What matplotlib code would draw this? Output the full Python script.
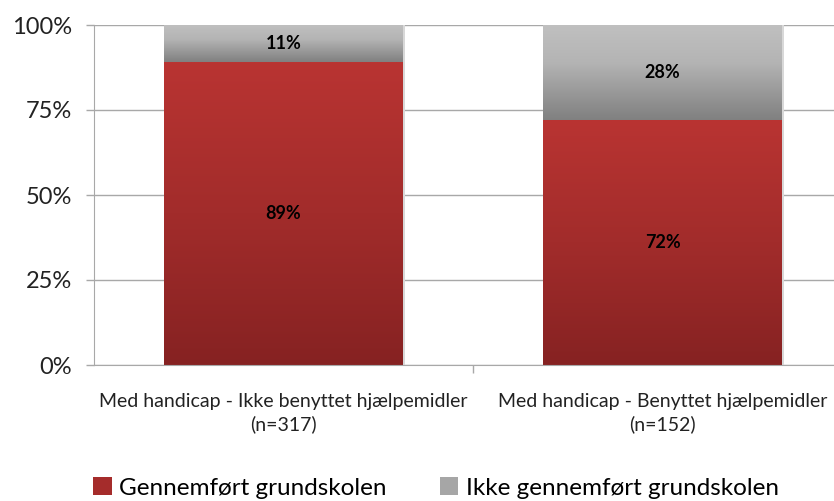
import numpy as np
import matplotlib
matplotlib.use("Agg")
import matplotlib.pyplot as plt
from matplotlib.colors import LinearSegmentedColormap

categories = ["Med handicap - Ikke benyttet hjælpemidler\n(n=317)",
              "Med handicap - Benyttet hjælpemidler\n(n=152)"]
completed = [89, 72]
not_completed = [11, 28]
series_names = ["Gennemført grundskolen", "Ikke gennemført grundskolen"]
yticks = [0, 25, 50, 75, 100]
ytick_labels = ["0%", "25%", "50%", "75%", "100%"]

plt.rcParams['font.family'] = ['Lato', 'DejaVu Sans']

W, H = 834, 501
fig = plt.figure(figsize=(W / 100, H / 100), dpi=100)
left, right, top, bottom = 94, 852, 25, 365
ax = fig.add_axes([left / W, 1 - bottom / H, (right - left) / W, (bottom - top) / H])

x = np.arange(len(categories))
width = 0.63
red_cmap = LinearSegmentedColormap.from_list("r", ["#862222", "#a22c2b", "#b93432"])
grey_cmap = LinearSegmentedColormap.from_list("g", [(0, "#808080"), (0.6, "#b4b4b4"), (1, "#c0c0c0")])

grad = np.linspace(0, 1, 256).reshape(-1, 1)
b1 = ax.bar(x, completed, width, color="#a52c2b", label=series_names[0], zorder=2)
b2 = ax.bar(x, not_completed, width, bottom=completed, color="#a6a6a6", label=series_names[1], zorder=2)

for bars, cmap in ((b1, red_cmap), (b2, grey_cmap)):
    for r in bars:
        x0, y0 = r.get_x(), r.get_y()
        w, h = r.get_width(), r.get_height()
        ax.add_patch(plt.Rectangle((x0 + w, y0), 0.006, h, color="#d8d8d8", zorder=1.5, lw=0))
        im = ax.imshow(grad, extent=(x0, x0 + w, y0, y0 + h), origin="lower",
                       cmap=cmap, aspect="auto", zorder=2.5, interpolation="bilinear")
        im.set_clip_path(r)

for i in range(len(categories)):
    ax.text(x[i], completed[i] / 2, f"{completed[i]}%", ha="center", va="center",
            fontsize=13, fontweight="bold", color="black", zorder=4)
    ax.text(x[i], completed[i] + not_completed[i] / 2, f"{not_completed[i]}%", ha="center",
            va="center", fontsize=13, fontweight="bold", color="black", zorder=4)

ax.set_xlim(-0.5, 1.5)
ax.set_ylim(0, 100)
ax.set_yticks(yticks)
ax.set_yticklabels(ytick_labels, fontsize=17, color="#222222")
ax.yaxis.grid(True, color="#a8a8a8", lw=1)
ax.set_axisbelow(True)
ax.tick_params(axis="y", length=6, color="#a8a8a8", width=1, pad=10)
ax.set_xticks(x)
ax.set_xticklabels(categories, fontsize=14, color="#222222", linespacing=1.4)
ax.set_xticks([0.5], minor=True)
ax.tick_params(axis="x", which="major", length=0, pad=20)
ax.tick_params(axis="x", which="minor", length=6, color="#a8a8a8", width=1)
for s in ("top", "right"):
    ax.spines[s].set_visible(False)
for s in ("left", "bottom"):
    ax.spines[s].set_color("#a8a8a8")

leg = fig.legend(handles=[b1, b2], labels=series_names, loc="center",
                 bbox_to_anchor=(436 / W, 1 - 488 / H), ncol=2, frameon=False,
                 fontsize=17.5, handlelength=0.75, handleheight=0.75, handletextpad=0.3,
                 columnspacing=2.2)

fig.savefig("out.png", dpi=100)
